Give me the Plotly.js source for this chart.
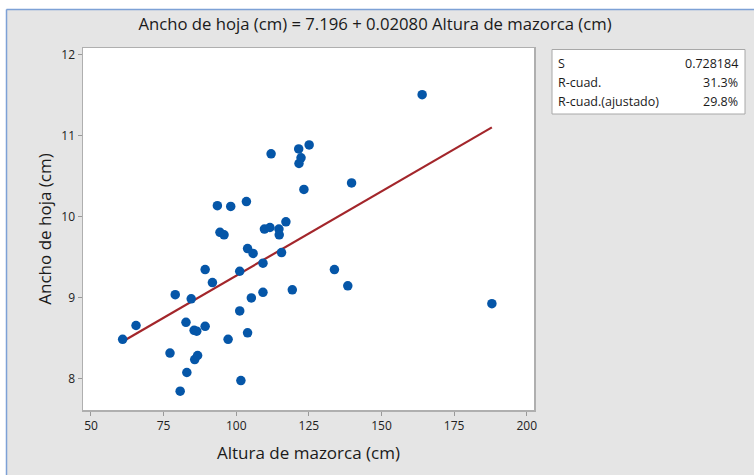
<!DOCTYPE html>
<html>
<head>
<meta charset="utf-8">
<script src="https://cdn.plot.ly/plotly-3.0.1.min.js"></script>
<style>html,body{margin:0;padding:0;background:#fff;}#chart{width:754px;height:475px;}</style>
</head>
<body>
<div id="chart"></div>
<script>
// Data
const alturaMazorca = [60.9, 65.5, 77.2, 79.0, 80.7, 82.7, 83.0, 84.5, 85.5, 86.4,
  85.7, 86.7, 89.3, 89.3, 91.8, 93.5, 94.4, 95.8, 97.2, 98.1,
  101.2, 101.2, 101.6, 103.5, 103.9, 103.9, 105.2, 105.8, 109.2, 109.2,
  109.7, 111.6, 112.0, 114.7, 114.8, 115.6, 117.1, 119.3, 121.5, 122.3,
  121.6, 123.3, 125.1, 133.8, 138.4, 139.7, 164.0, 188.0];
const anchoHoja = [8.49, 8.66, 8.32, 9.04, 7.85, 8.70, 8.08, 8.99, 8.60, 8.59,
  8.24, 8.29, 9.35, 8.65, 9.19, 10.14, 9.81, 9.78, 8.49, 10.13,
  9.33, 8.84, 7.98, 10.19, 9.61, 8.57, 9.00, 9.55, 9.43, 9.07,
  9.85, 9.87, 10.78, 9.85, 9.78, 9.56, 9.94, 9.10, 10.84, 10.73,
  10.66, 10.34, 10.89, 9.35, 9.15, 10.42, 11.51, 8.93];
const intercept = 7.196;
const slope = 0.02080;
const statLabels = ["S", "R-cuad.", "R-cuad.(ajustado)"];
const statValues = ["0.728184", "31.3%", "29.8%"];
const xTicks = [50, 75, 100, 125, 150, 175, 200];
const yTicks = [8, 9, 10, 11, 12];

const xMin = Math.min(...alturaMazorca), xMax = Math.max(...alturaMazorca);
const fitX = [xMin, xMax];
const fitY = fitX.map(v => intercept + slope * v);

const FONT = "Open Sans, Noto Sans, sans-serif";
const L = 83, R = 534, T = 48, B = 410, W = 754, H = 475;
const px = x => (x - L) / (R - L);
const py = y => (B - y) / (B - T);

const traces = [
  {x: fitX, y: fitY, type: "scatter", mode: "lines",
   line: {color: "#A3262B", width: 2.2}, hoverinfo: "skip", showlegend: false},
  {x: alturaMazorca, y: anchoHoja, type: "scatter", mode: "markers",
   marker: {color: "#0556A8", size: 9.5}, showlegend: false}
];

const annotations = [];
statLabels.forEach((s, i) => {
  const yy = py([63.5, 82.5, 101.5][i]);
  annotations.push({xref: "paper", yref: "paper", x: px(556), y: yy, xanchor: "left", yanchor: "middle",
    text: s, showarrow: false, font: {family: FONT, size: 12.5, color: "#1a1a1a"}});
  annotations.push({xref: "paper", yref: "paper", x: px(740), y: yy, xanchor: "right", yanchor: "middle",
    text: statValues[i], showarrow: false, font: {family: FONT, size: 12.5, color: "#1a1a1a"}});
});

const layout = {
  width: W, height: H,
  margin: {l: L, r: W - R, t: T, b: H - B, pad: 0},
  paper_bgcolor: "#E5E5E5",
  plot_bgcolor: "#FFFFFF",
  font: {family: FONT, size: 12, color: "#222"},
  title: {text: "Ancho de hoja (cm) = 7.196 + 0.02080 Altura de mazorca (cm)",
    x: 375 / W, xref: "container", xanchor: "center", y: 1 - 24 / H, yref: "container", yanchor: "middle",
    font: {family: FONT, size: 16.7, color: "#1a1a1a"}},
  xaxis: {range: [47.25, 202.5], tickvals: xTicks, ticks: "outside", ticklen: 4, tickcolor: "#999",
    showline: true, linecolor: "#AFAFAF", linewidth: 1.5, mirror: true, showgrid: false, zeroline: false,
    tickfont: {family: FONT, size: 12, color: "#222"},
    title: {text: "Altura de mazorca (cm)", font: {family: FONT, size: 17, color: "#1a1a1a"}, standoff: 14}},
  yaxis: {range: [7.617, 12.086], tickvals: yTicks, ticks: "outside", ticklen: 4, tickcolor: "#999",
    showline: true, linecolor: "#AFAFAF", linewidth: 1.5, mirror: true, showgrid: false, zeroline: false,
    tickfont: {family: FONT, size: 12, color: "#222"},
    title: {text: "Ancho de hoja (cm)", font: {family: FONT, size: 17, color: "#1a1a1a"}, standoff: 5}},
  shapes: [
    {type: "rect", xref: "paper", yref: "paper", x0: px(-5), x1: px(W + 5), y0: py(9), y1: py(-5),
      fillcolor: "#FFFFFF", line: {width: 0}, layer: "below"},
    {type: "rect", xref: "paper", yref: "paper", x0: px(-5), x1: px(6), y0: py(H + 5), y1: py(-5),
      fillcolor: "#FFFFFF", line: {width: 0}, layer: "below"},
    {type: "line", xref: "paper", yref: "paper", x0: px(6.5), x1: px(W + 5), y0: py(9.5), y1: py(9.5),
      line: {color: "#7DA1D6", width: 1.5}},
    {type: "line", xref: "paper", yref: "paper", x0: px(6.5), x1: px(6.5), y0: py(9.5), y1: py(H + 5),
      line: {color: "#7DA1D6", width: 1.5}},
    {type: "rect", xref: "paper", yref: "paper", x0: px(552), x1: px(745), y0: py(114), y1: py(49.5),
      fillcolor: "#FFFFFF", line: {color: "#A8A8A8", width: 1}}
  ],
  annotations: annotations
};

Plotly.newPlot("chart", traces, layout, {displayModeBar: false, staticPlot: true});
</script>
</body>
</html>
